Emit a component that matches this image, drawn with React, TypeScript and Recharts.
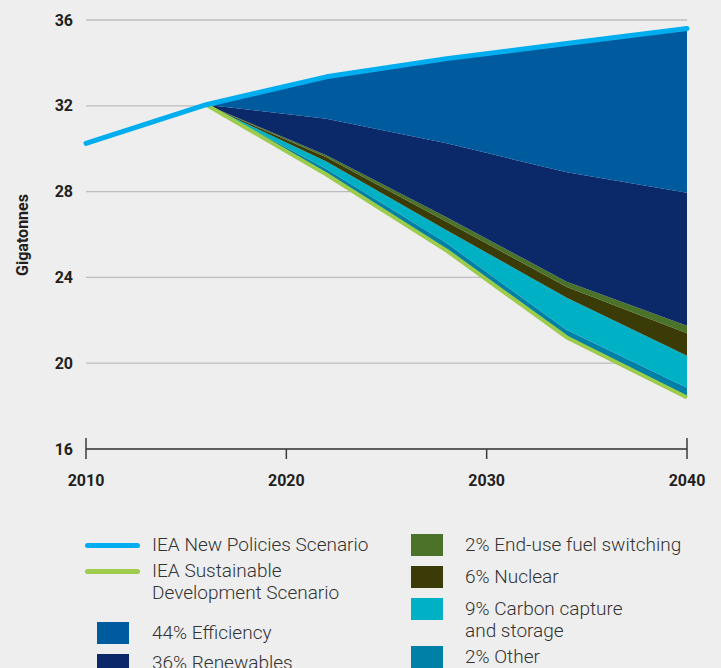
import React from 'react';
import {
  ComposedChart, Area, Line, XAxis, YAxis, CartesianGrid
} from 'recharts';

// years on the x axis (kinks of the projection lines)
const years = [2010, 2016, 2022, 2028, 2034, 2040];

// IEA New Policies Scenario (Gt)
const newPolicies = [30.25, 32.05, 33.35, 34.2, 34.9, 35.6];
// IEA Sustainable Development Scenario (Gt)
const sustainable = [null, 32.05, 28.8, 25.25, 21.2, 18.4];

// upper edge of each wedge
const otherTop = [null, 32.05, 29.05, 25.6, 21.55, 18.85];
const ccsTop = [null, 32.05, 29.4, 26.2, 23.05, 20.35];
const nuclearTop = [null, 32.05, 29.6, 26.6, 23.55, 21.4];
const fuelSwitchTop = [null, 32.05, 29.7, 26.8, 23.8, 21.75];
const renewablesTop = [null, 32.05, 31.4, 30.25, 28.9, 27.95];

const xTicks = [2010, 2020, 2030, 2040];
const yTicks = [16, 20, 24, 28, 32, 36];

const COLORS = {
  nps: '#00AEEF',
  sds: '#9DCB4C',
  efficiency: '#005A9E',
  renewables: '#0B2968',
  fuelSwitch: '#4A7229',
  nuclear: '#3B3B08',
  ccs: '#00B1C5',
  other: '#0080A6',
};

const data = years.map((year, i) => ({
  year,
  nps: newPolicies[i],
  sds: sustainable[i],
  other: sustainable[i] == null ? null : [sustainable[i], otherTop[i]],
  ccs: otherTop[i] == null ? null : [otherTop[i], ccsTop[i]],
  nuclear: ccsTop[i] == null ? null : [ccsTop[i], nuclearTop[i]],
  fuelSwitch: nuclearTop[i] == null ? null : [nuclearTop[i], fuelSwitchTop[i]],
  renewables: fuelSwitchTop[i] == null ? null : [fuelSwitchTop[i], renewablesTop[i]],
  efficiency: renewablesTop[i] == null ? null : [renewablesTop[i], newPolicies[i]],
}));

const FONT = 'Roboto, "Open Sans", sans-serif';

const XTick = (props: any) => {
  const { x, y, payload } = props;
  const edge = payload.value === 2010 || payload.value === 2040;
  return (
    <g>
      <line x1={x} x2={x} y1={edge ? y - 11 : y} y2={y + 10} stroke="#3a3a3a" strokeWidth={1.5} />
      <text x={x} y={y + 37} textAnchor="middle" fill="#231f20" fontSize={16} fontWeight={700} fontFamily={FONT}>
        {payload.value}
      </text>
    </g>
  );
};

const legendText: React.CSSProperties = {
  position: 'absolute',
  fontFamily: FONT,
  fontWeight: 300,
  fontSize: 19,
  lineHeight: '22px',
  color: '#333',
  whiteSpace: 'nowrap',
};

const Swatch = ({ x, y, color }: { x: number; y: number; color: string }) => (
  <div style={{ position: 'absolute', left: x, top: y, width: 32, height: 22, background: color }} />
);

const LineSwatch = ({ x, y, color }: { x: number; y: number; color: string }) => (
  <div style={{ position: 'absolute', left: x, top: y - 2.5, width: 55, height: 5, borderRadius: 3, background: color }} />
);

export default function App() {
  return (
    <div style={{ position: 'absolute', left: 0, top: 0, width: 721, height: 668, background: '#EEEEEE', overflow: 'hidden' }}>
      <ComposedChart width={721} height={500} data={data} margin={{ top: 20, right: 34, left: 0, bottom: 0 }}>
        <CartesianGrid vertical={false} stroke="#BDBDBD" strokeWidth={1.3} />
        <XAxis
          dataKey="year"
          type="number"
          domain={[2010, 2040]}
          ticks={xTicks}
          height={51}
          tickSize={0}
          tickMargin={0}
          tickLine={false}
          axisLine={{ stroke: '#3a3a3a', strokeWidth: 1.5 }}
          tick={<XTick />}
        />
        <YAxis
          domain={[16, 36]}
          ticks={yTicks}
          width={86}
          tickSize={0}
          tickMargin={13}
          tickLine={false}
          axisLine={false}
          tick={{ fill: '#231f20', fontSize: 16, fontWeight: 700, fontFamily: FONT }}
        />
        <Area dataKey="other" type="linear" stroke="none" fill={COLORS.other} fillOpacity={1} isAnimationActive={false} />
        <Area dataKey="ccs" type="linear" stroke="none" fill={COLORS.ccs} fillOpacity={1} isAnimationActive={false} />
        <Area dataKey="nuclear" type="linear" stroke="none" fill={COLORS.nuclear} fillOpacity={1} isAnimationActive={false} />
        <Area dataKey="fuelSwitch" type="linear" stroke="none" fill={COLORS.fuelSwitch} fillOpacity={1} isAnimationActive={false} />
        <Area dataKey="renewables" type="linear" stroke="none" fill={COLORS.renewables} fillOpacity={1} isAnimationActive={false} />
        <Area dataKey="efficiency" type="linear" stroke="none" fill={COLORS.efficiency} fillOpacity={1} isAnimationActive={false} />
        <Line dataKey="sds" type="linear" stroke={COLORS.sds} strokeWidth={4} dot={false} strokeLinejoin="round" isAnimationActive={false} />
        <Line dataKey="nps" type="linear" stroke={COLORS.nps} strokeWidth={5} dot={false} strokeLinecap="round" strokeLinejoin="round" isAnimationActive={false} />
      </ComposedChart>

      <div
        style={{
          position: 'absolute', left: 22, top: 235, transform: 'translate(-50%, -50%) rotate(-90deg)',
          fontFamily: FONT, fontWeight: 700, fontSize: 16, color: '#231f20', whiteSpace: 'nowrap',
        }}
      >
        Gigatonnes
      </div>

      {/* legend, left column */}
      <LineSwatch x={85} y={545} color={COLORS.nps} />
      <div style={{ ...legendText, left: 152, top: 534 }}>IEA New Policies Scenario</div>
      <LineSwatch x={85} y={571} color={COLORS.sds} />
      <div style={{ ...legendText, left: 152, top: 560 }}>IEA Sustainable<br />Development Scenario</div>
      <Swatch x={97} y={622} color={COLORS.efficiency} />
      <div style={{ ...legendText, left: 152, top: 622 }}>44% Efficiency</div>
      <Swatch x={97} y={654} color={COLORS.renewables} />
      <div style={{ ...legendText, left: 152, top: 652 }}>36% Renewables</div>

      {/* legend, right column */}
      <Swatch x={411} y={534} color={COLORS.fuelSwitch} />
      <div style={{ ...legendText, left: 465, top: 534 }}>2% End-use fuel switching</div>
      <Swatch x={411} y={566} color={COLORS.nuclear} />
      <div style={{ ...legendText, left: 465, top: 566 }}>6% Nuclear</div>
      <Swatch x={411} y={598} color={COLORS.ccs} />
      <div style={{ ...legendText, left: 465, top: 598 }}>9% Carbon capture<br />and storage</div>
      <Swatch x={411} y={646} color={COLORS.other} />
      <div style={{ ...legendText, left: 465, top: 646 }}>2% Other</div>
    </div>
  );
}
